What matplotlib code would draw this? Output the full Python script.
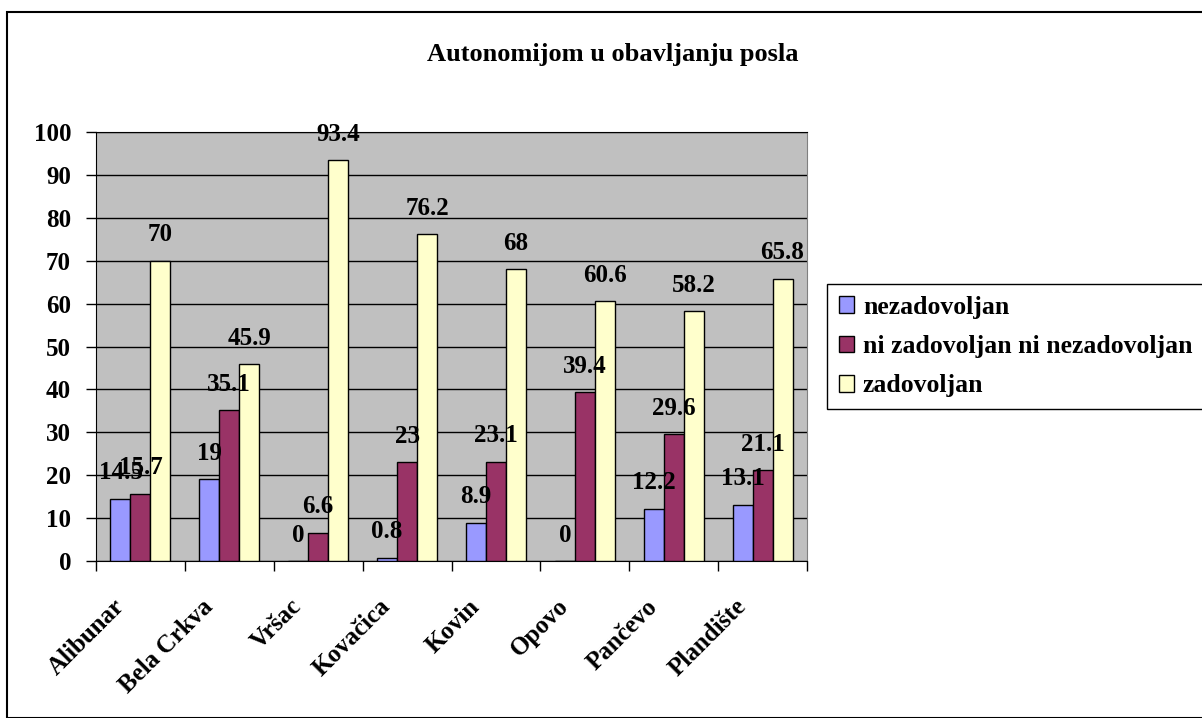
import numpy as np
import matplotlib.pyplot as plt
from matplotlib.patches import Rectangle
from matplotlib.transforms import ScaledTranslation

plt.rcParams['font.family'] = ['Liberation Serif', 'DejaVu Serif']
plt.rcParams['font.weight'] = 'bold'

cities = ['Alibunar', 'Bela Crkva', 'Vršac', 'Kovačica', 'Kovin', 'Opovo', 'Pančevo', 'Plandište']
series_names = ['nezadovoljan', 'ni zadovoljan ni nezadovoljan', 'zadovoljan']
nezadovoljan = [14.5, 19, 0, 0.8, 8.9, 0, 12.2, 13.1]
neutral = [15.7, 35.1, 6.6, 23, 23.1, 39.4, 29.6, 21.1]
zadovoljan = [70, 45.9, 93.4, 76.2, 68, 60.6, 58.2, 65.8]
colors = ['#9999FF', '#993366', '#FFFFCC']
label_texts = [
    ['14.5', '19', '0', '0.8', '8.9', '0', '12.2', '13.1'],
    ['15.7', '35.1', '6.6', '23', '23.1', '39.4', '29.6', '21.1'],
    ['70', '45.9', '93.4', '76.2', '68', '60.6', '58.2', '65.8'],
]

fig = plt.figure(figsize=(12.02, 7.18), dpi=100)
ax = fig.add_axes([96 / 1202, 1 - 561 / 718, 711 / 1202, 429 / 718])
ax.set_facecolor('#C0C0C0')

x = np.arange(len(cities))
width = 0.225
for i, vals in enumerate([nezadovoljan, neutral, zadovoljan]):
    pos = x + (i - 1) * width
    ax.bar(pos, vals, width, color=colors[i], edgecolor='black', linewidth=1,
           label=series_names[i], zorder=3)
    for xp, v, t in zip(pos, vals, label_texts[i]):
        ax.annotate(t, (xp, v), xytext=(0, 14), textcoords='offset points',
                    ha='center', va='baseline', fontsize=18, fontweight='bold',
                    zorder=5, annotation_clip=False)

ax.set_xlim(-0.5, len(cities) - 0.5)
ax.set_ylim(0, 100)
ax.set_yticks(range(0, 101, 10))
ax.yaxis.grid(True, color='black', linewidth=1, zorder=0)
ax.set_axisbelow(True)
ax.tick_params(axis='y', direction='out', length=7, width=1, pad=11, labelsize=18)

ax.set_xticks(x)
ax.set_xticklabels(cities, rotation=45, ha='right', va='center',
                   rotation_mode='anchor', fontsize=18, fontweight='bold')
ax.tick_params(axis='x', which='major', length=0, pad=0)
ax.set_xticks(np.arange(-0.5, len(cities)), minor=True)
ax.tick_params(axis='x', which='minor', direction='out', length=7, width=1)
for lbl in ax.get_xticklabels():
    lbl.set_transform(lbl.get_transform() + ScaledTranslation(-20 / 100, -42 / 100, fig.dpi_scale_trans))

ax.spines['left'].set_color('black')
ax.spines['bottom'].set_color('black')
ax.spines['top'].set_color('black')
ax.spines['right'].set_color('#808080')

fig.text(613 / 1202, 1 - 55 / 718, 'Autonomijom u obavljanju posla', ha='center', va='center',
         fontsize=19, fontweight='bold')

fig.legend(loc='upper left', bbox_to_anchor=(827 / 1202, 1 - 284 / 718), fontsize=18.5,
           frameon=True, fancybox=False, edgecolor='black', framealpha=1,
           handlelength=0.62, handleheight=0.62, handletextpad=0.33, labelspacing=0.64,
           borderpad=0.45, borderaxespad=0)

fig.patches.append(Rectangle((7 / 1202, 0), 1.2, 1 - 12 / 718, transform=fig.transFigure,
                             fill=False, edgecolor='black', linewidth=1.5))

fig.savefig('out.png', dpi=100)
